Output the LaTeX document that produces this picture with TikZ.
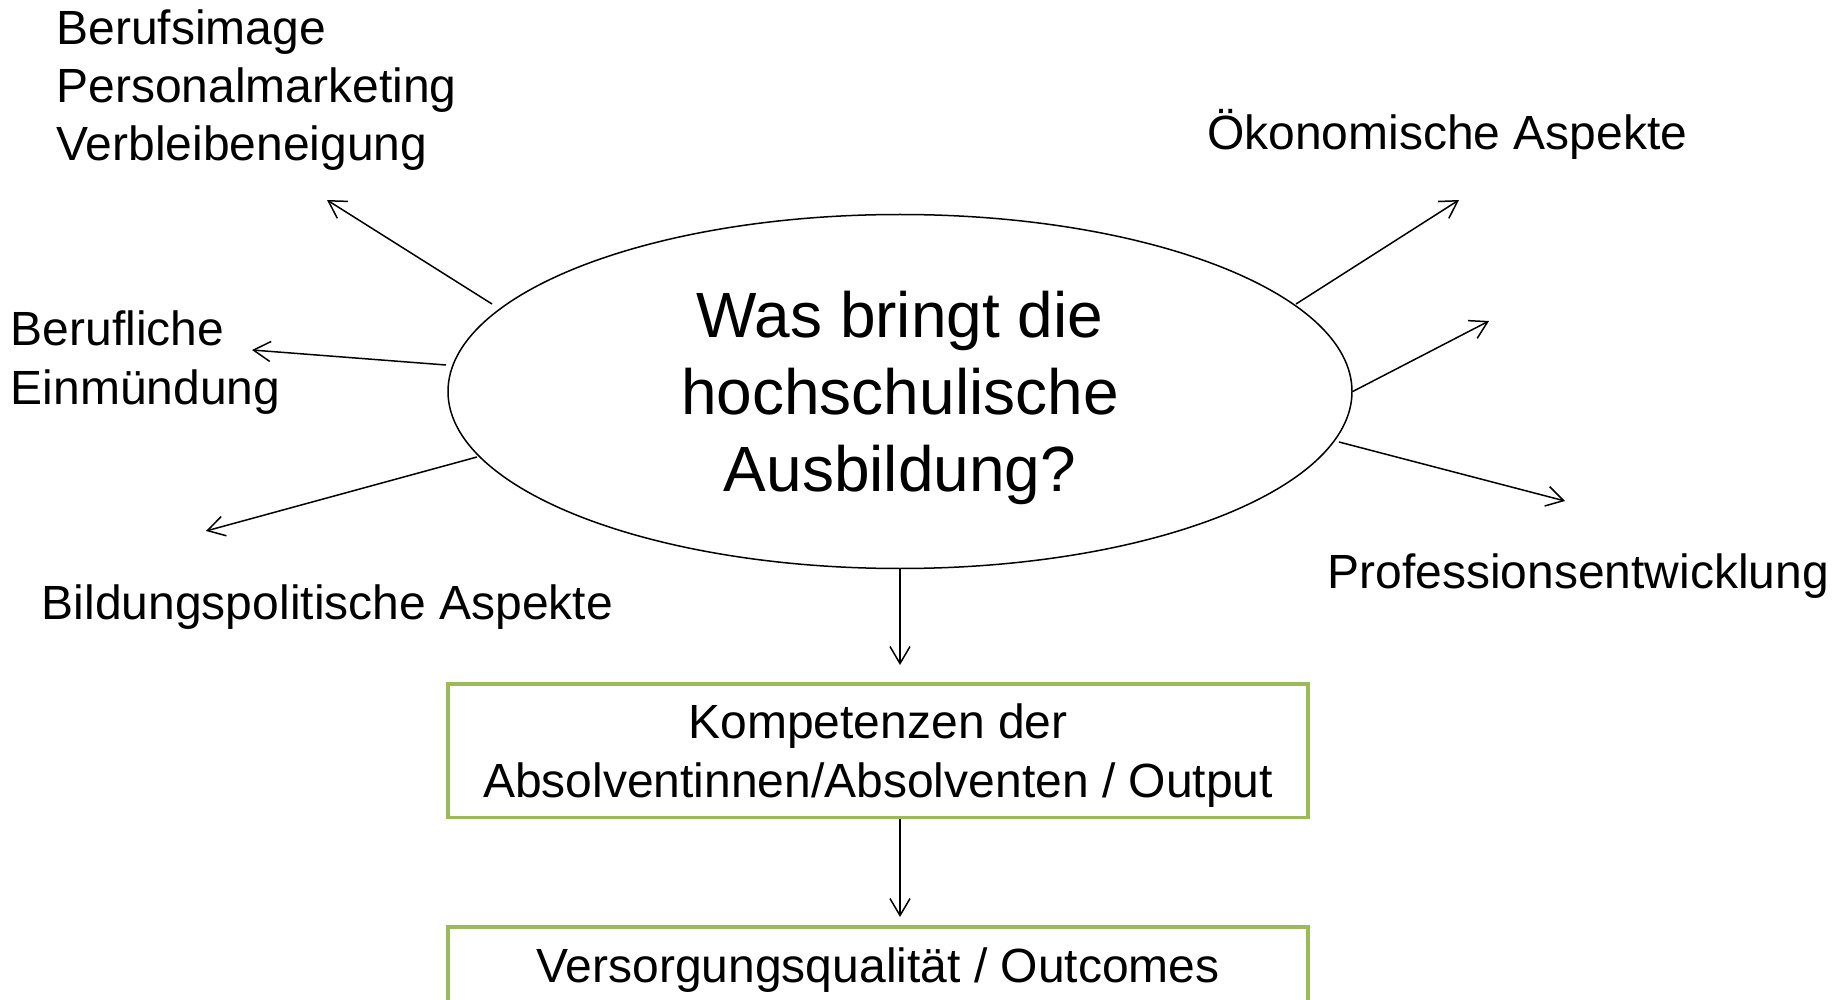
\documentclass[tikz,border=0pt]{standalone}
\usepackage{fontspec}
\setmainfont{Liberation Sans}
\usetikzlibrary{arrows.meta,shapes.geometric}
\definecolor{gruen}{RGB}{155,187,89}
\begin{document}
\begin{tikzpicture}[x=0.5pt, y=-0.5pt,
	pfeil/.style={-{Straight Barb[length=8.5pt,width=10pt]}, line width=0.75pt},
	etikett/.style={anchor=base west, inner sep=0pt, align=left, font=\fontsize{24}{29}\selectfont},
	kasten/.style={draw=gruen, line width=1.75pt, minimum width=430pt, minimum height=66.75pt, inner sep=0pt, align=center, text height=47pt, text depth=0.5pt, font=\fontsize{24}{29.5}\selectfont}]
			\useasboundingbox (0,0) rectangle (1843,1000);
			\clip (0,0) rectangle (1843,1000);
			\node[ellipse, draw, line width=0.75pt, minimum width=452pt, minimum height=177pt, inner sep=0pt, align=center, text depth=0pt, font=\fontsize{32}{38.5}\selectfont] (frage) at (900,391.5) {Was bringt die\\hochschulische\\Ausbildung?};
			\node[kasten] (kompetenz) at (878,750.5) {Kompetenzen der\\Absolventinnen/Absolventen / Output};
			\node[kasten, text height=17.5pt, text depth=29pt] (versorgung) at (878,993.5) {Versorgungsqualität / Outcomes};
			\node[etikett] (image) at (56,161) {Berufsimage\\Personalmarketing\\Verbleibeneigung};
			\node[etikett] (einmuendung) at (10.5,404) {Berufliche\\Einmündung};
			\node[etikett] (bildung) at (41.5,619) {Bildungspolitische Aspekte};
			\node[etikett] (oekonomie) at (1206.7,150) {Ökonomische Aspekte};
			\node[etikett] (profession) at (1327,588) {Professionsentwicklung};
			\coordinate (zielA) at (327,200);
			\coordinate (zielB) at (252,350);
			\coordinate (zielC) at (206,531);
			\coordinate (zielD) at (1459,200);
			\coordinate (zielE) at (1489,321);
			\coordinate (zielF) at (1565,501);
			\draw[pfeil] ([shift={(-408,-87.5)}]frage.center) -- (zielA);
			\draw[pfeil] ([shift={(-454,-26.5)}]frage.center) -- (zielB);
			\draw[pfeil] ([shift={(-423,65.5)}]frage.center) -- (zielC);
			\draw[pfeil] ([shift={(396,-87.5)}]frage.center) -- (zielD);
			\draw[pfeil] (frage.east) -- (zielE);
			\draw[pfeil] ([shift={(439,50.5)}]frage.center) -- (zielF);
			\draw[pfeil, shorten >=8.5pt] (frage.south) -- (kompetenz.north -| frage.south);
			\draw[pfeil, shorten >=4pt] (kompetenz.south -| frage.south) -- (versorgung.north -| frage.south);
\end{tikzpicture}
\end{document}
